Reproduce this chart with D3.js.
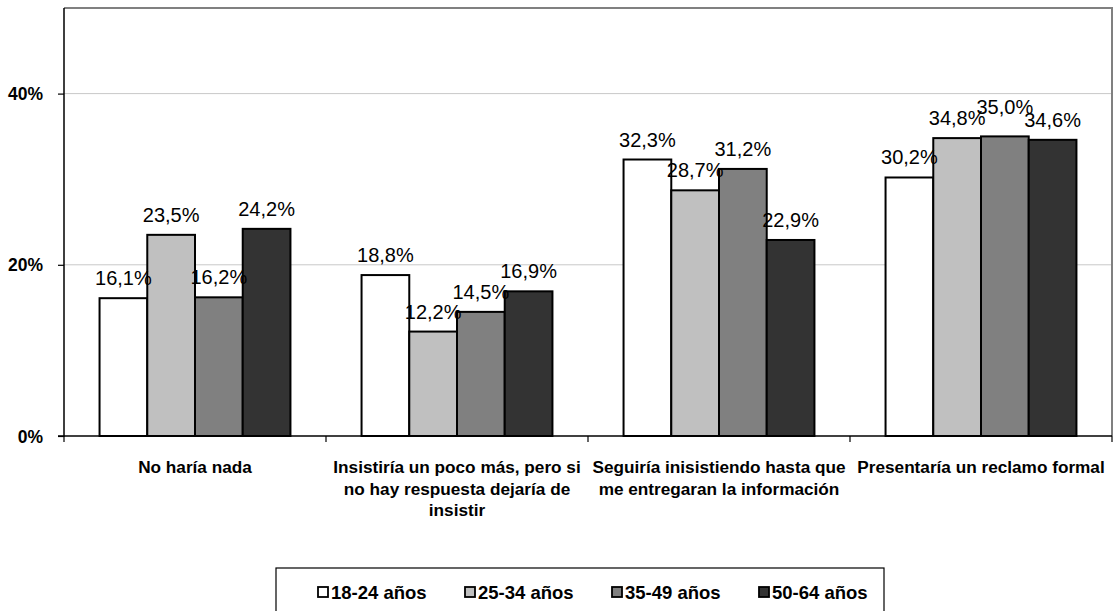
<!DOCTYPE html>
<html><head><meta charset="utf-8">
<script src="https://cdn.jsdelivr.net/npm/d3@7"></script>
<style>body{margin:0;background:#fff}svg{display:block}</style>
</head><body>
<svg id="c" width="1118" height="611"></svg>
<script>
const categories = [
  ["No haría nada"],
  ["Insistiría un poco más, pero si", "no hay respuesta dejaría de", "insistir"],
  ["Seguiría inisistiendo hasta que", "me entregaran la información"],
  ["Presentaría un reclamo formal"]
];
const seriesNames = ["18-24 años", "25-34 años", "35-49 años", "50-64 años"];
const s1824 = [16.1, 18.8, 32.3, 30.2];
const s2534 = [23.5, 12.2, 28.7, 34.8];
const s3549 = [16.2, 14.5, 31.2, 35.0];
const s5064 = [24.2, 16.9, 22.9, 34.6];
const yTicks = [0, 20, 40];
const colors = ["#ffffff", "#c0c0c0", "#808080", "#333333"];

const FONT = "Liberation Sans, Arial, sans-serif";
const series = [s1824, s2534, s3549, s5064];
const svg = d3.select("#c");
const L = 64, R = 1112, T = 8, B = 436;
const x0 = d3.scaleBand().domain(d3.range(categories.length)).range([L, R]).paddingInner(0).paddingOuter(0);
const x1 = d3.scaleBand().domain(d3.range(series.length)).range([0, x0.bandwidth()]).paddingOuter(0.745).paddingInner(0);
const y = d3.scaleLinear().domain([0, 50]).range([B, T]);

// grid
svg.append("g").selectAll("line").data(yTicks.filter(d => d > 0)).join("line")
  .attr("x1", L).attr("x2", R).attr("y1", d => y(d)).attr("y2", d => y(d))
  .attr("stroke", "#c8c8c8").attr("stroke-width", 1);

// frame top/right
svg.append("path").attr("d", `M${L},${T}H${R}V${B}`).attr("fill", "none")
  .attr("stroke", "#808080").attr("stroke-width", 2);

// bars
const g = svg.append("g");
categories.forEach((c, ci) => {
  series.forEach((s, si) => {
    g.append("rect")
      .attr("x", x0(ci) + x1(si)).attr("y", y(s[ci]))
      .attr("width", x1.bandwidth()).attr("height", B - y(s[ci]))
      .attr("fill", colors[si]).attr("stroke", "#000").attr("stroke-width", 2);
  });
});

// y axis
const yAxis = d3.axisLeft(y).tickValues(yTicks).tickFormat(d => d + "%").tickSize(6).tickPadding(15);
const ya = svg.append("g").attr("transform", `translate(${L},0)`).call(yAxis);
ya.select(".domain").attr("stroke", "#000").attr("stroke-width", 1.5).attr("d", `M-6,${B}H0V${T}`);
ya.selectAll(".tick line").attr("stroke", "#000").attr("stroke-width", 1.2);
ya.selectAll("text").attr("font-family", FONT).attr("font-weight", "bold")
  .attr("font-size", 17.5).attr("fill", "#000").attr("dy", "0.35em");

// x axis
const xa = d3.axisBottom(x0).tickValues([]).tickSize(0);
const xg = svg.append("g").attr("transform", `translate(0,${B})`).call(xa);
xg.select(".domain").attr("stroke", "#000").attr("stroke-width", 1.5).attr("d", `M${L},0H${R}`);
d3.range(categories.length + 1).forEach(i => {
  const xx = i < categories.length ? x0(i) : R;
  xg.append("line").attr("x1", xx).attr("x2", xx).attr("y1", 0).attr("y2", 6).attr("stroke", "#000").attr("stroke-width", 1.2);
});
categories.forEach((c, ci) => {
  const t = xg.append("text").attr("text-anchor", "middle")
    .attr("font-family", FONT).attr("font-weight", "bold").attr("font-size", 17.2)
    .attr("fill", "#000");
  c.forEach((line, li) => {
    t.append("tspan").attr("x", x0(ci) + x0.bandwidth() / 2).attr("y", 37 + li * 21.5).text(line);
  });
});

// value labels (a label squeezed between two near-equal neighbours is lifted, as in the original)
categories.forEach((c, ci) => {
  series.forEach((s, si) => {
    const v = s[ci];
    const prev = si > 0 ? series[si - 1][ci] : null;
    const next = si < series.length - 1 ? series[si + 1][ci] : null;
    const crowded = prev !== null && next !== null && Math.abs(prev - v) < 1 && Math.abs(next - v) < 1 && v >= prev && v >= next;
    svg.append("text").attr("text-anchor", "middle")
      .attr("x", x0(ci) + x1(si) + x1.bandwidth() / 2)
      .attr("y", y(v) - 13 - (crowded ? 9 : 0))
      .attr("font-family", FONT).attr("font-size", 20).attr("fill", "#000")
      .text(v.toFixed(1).replace(".", ",") + "%");
  });
});

// legend
const lg = svg.append("g");
lg.append("rect").attr("x", 276).attr("y", 568).attr("width", 608).attr("height", 50)
  .attr("fill", "#fff").attr("stroke", "#000").attr("stroke-width", 1.2);
seriesNames.forEach((n, i) => {
  const lx = 318 + i * 147;
  lg.append("rect").attr("x", lx).attr("y", 587).attr("width", 10).attr("height", 10)
    .attr("fill", colors[i]).attr("stroke", "#000").attr("stroke-width", 1.8);
  lg.append("text").attr("x", lx + 13).attr("y", 599)
    .attr("font-family", FONT).attr("font-weight", "bold").attr("font-size", 18.5)
    .attr("fill", "#000").text(n);
});
</script>
</body></html>
